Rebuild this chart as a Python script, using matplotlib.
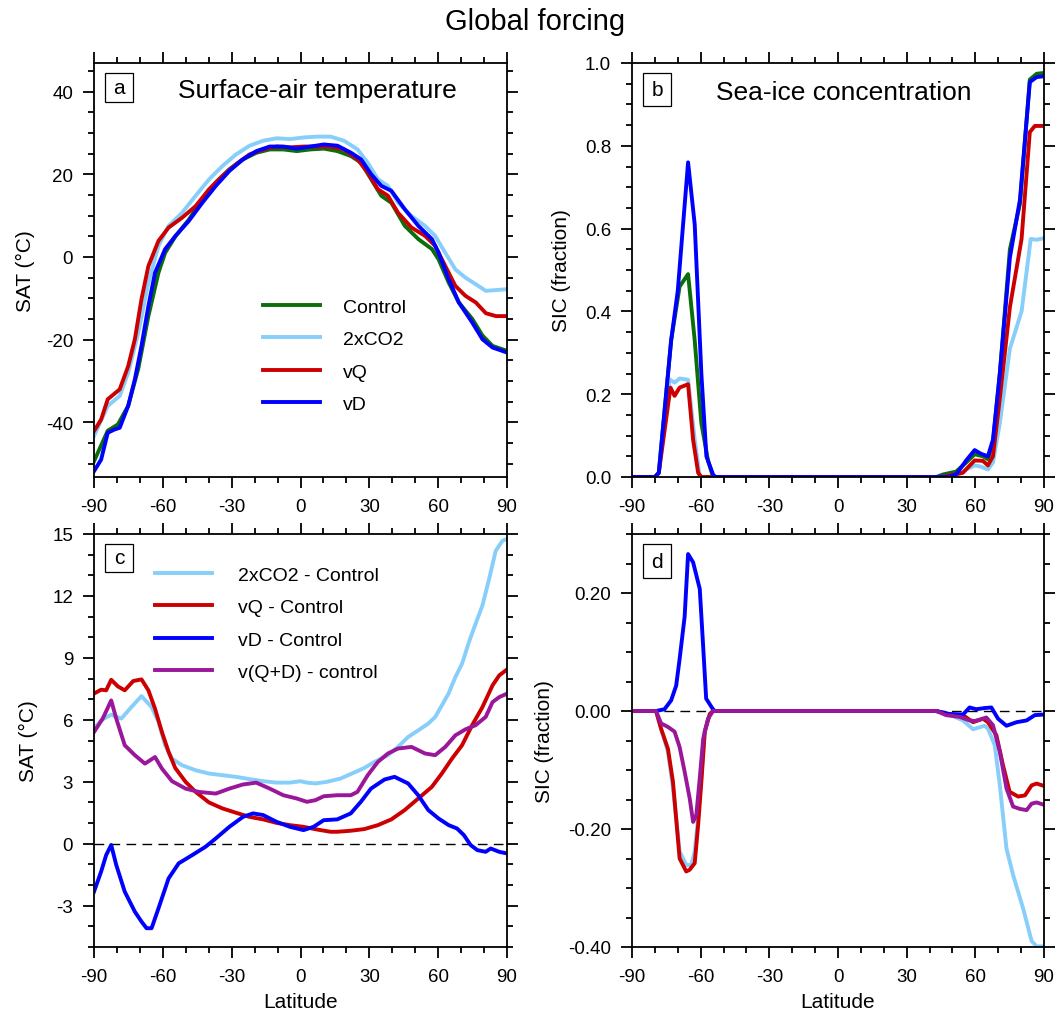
"""
Global forcing: zonal-mean surface-air temperature and sea-ice concentration
for the control / 2xCO2 / vQ / vD experiments, plus their differences.
"""

import matplotlib
matplotlib.use("Agg")
import matplotlib.pyplot as plt
from matplotlib.patches import Rectangle
from matplotlib.ticker import MultipleLocator, FormatStrFormatter

plt.rcParams["font.family"] = ["Liberation Sans", "DejaVu Sans"]
plt.rcParams["axes.unicode_minus"] = False

C_CTRL = "#0a6e0a"
C_CO2 = "#87cefa"
C_VQ = "#cc0000"
C_VD = "#0000ff"
C_VQD = "#9a179a"

# ---- panel a: SAT (degC) ----
sat_ctrl_lat = [-90, -84, -79.6, -75.1, -70.7, -66.3, -61.9, -59, -54.5, -48.7, -42.8, -36.9, -31, -25.1,
                -19.2, -13.4, -7.5, -1.6, 4.3, 10.2, 16.1, 22, 26.4, 30.8, 35.2, 39.6, 45.5, 51.4, 57.3,
                60.2, 64.6, 69, 74.9, 79.3, 83.7, 90]
sat_ctrl = [-49.4, -42, -40.5, -36, -27, -14.3, -3.8, 1, 5, 9, 14, 18, 21.2, 23.6,
            25.2, 26, 26, 25.6, 26, 26.2, 25.6, 24.4, 22.8, 18.8, 14.8, 13.1, 7.5, 4.3, 1.9,
            -0.6, -6.2, -11, -15, -19, -21.5, -22.7]

sat_co2_lat = [-90, -84, -78.8, -75.1, -70.7, -66.3, -61.9, -57.5, -51.6, -45.7, -39.8, -34, -28.1, -22.2,
               -16.3, -10.4, -4.5, 1.4, 7.2, 13.1, 19, 24.9, 29.3, 33.7, 38.1, 42.5, 48.4, 54.3, 58.7,
               63.1, 67.5, 71.9, 76.4, 80.8, 85.2, 90]
sat_co2 = [-43.3, -36, -33.6, -28, -18.3, -6.2, 2.7, 7.5, 10.7, 14.8, 18.8, 22, 24.8, 26.9,
           28.1, 28.7, 28.5, 28.9, 29.1, 29.1, 28.1, 26, 22.8, 18.8, 17.2, 13.1, 9.9, 7.5, 5.1,
           1, -3, -5, -6.6, -8.2, -8, -7.8]

sat_vq_lat = [-90, -86.9, -84, -78.8, -75.1, -72.2, -69.3, -66.3, -61.9, -57.5, -51.6, -45.7, -39.8, -34,
              -28.1, -22.2, -16.3, -10.4, -4.5, 1.4, 7.2, 13.1, 19, 24.9, 29.3, 33.7, 38.1, 42.5, 48.4,
              54.3, 58.7, 63.1, 67.5, 71.9, 76.4, 80.8, 85.2, 90]
sat_vq = [-42.1, -39.3, -34.4, -32, -26.4, -19.9, -10.2, -2.2, 3.9, 7.1, 9.5, 12.3, 16.4, 19.6,
          22.4, 24.8, 26, 26.7, 26.5, 26.7, 26.7, 26.7, 26, 23.6, 20.4, 16.4, 14.8, 10.7, 7.1,
          5.1, 2.7, -2.2, -7, -9.4, -11, -13.6, -14.3, -14.3]

sat_vd_lat = [-90, -86.9, -84, -81, -78.8, -75.1, -72.2, -69.3, -66.3, -63.4, -59, -54.5, -48.7, -42.8,
              -36.9, -31, -25.1, -19.2, -13.4, -7.5, -1.6, 4.3, 10.2, 16.1, 22, 26.4, 30.8, 35.2, 39.6,
              45.5, 51.4, 57.3, 60.2, 64.6, 69, 74.9, 79.3, 83.7, 90]
sat_vd = [-51.8, -49, -42.5, -41.7, -41.3, -36, -29.6, -21.5, -11.9, -3.8, 1.9, 5.1, 8.7, 13.1,
          17.2, 20.8, 23.6, 25.6, 26.7, 26.7, 26.2, 26.7, 27.2, 26.9, 25.2, 23.6, 20, 17.2, 16,
          11.5, 7.5, 4.3, 1, -5.4, -11, -15.9, -19.9, -21.9, -23.1]

# ---- panel b: SIC (fraction) ----
sic_ctrl_lat = [-90, -80, -78.3, -72.9, -69.2, -65.5, -62.6, -59.7, -56.8, -54.6, 43, 45.8, 51.6, 56,
                59.7, 63.3, 65.5, 67.7, 70.7, 75.1, 79.5, 83.8, 86.8, 90]
sic_ctrl = [0, 0, 0.01, 0.33, 0.46, 0.49, 0.33, 0.13, 0.04, 0, 0, 0.006, 0.013, 0.035,
            0.055, 0.05, 0.043, 0.083, 0.25, 0.55, 0.66, 0.96, 0.974, 0.976]

sic_co2_lat = [-90, -80, -78.3, -73.6, -71.4, -69.2, -65.5, -62.6, -60.4, 48, 51.6, 56, 59.7, 62.5,
               65.5, 67.7, 70.7, 75.1, 80.2, 84.2, 86.8, 90]
sic_co2 = [0, 0, 0.01, 0.236, 0.228, 0.238, 0.235, 0.09, 0, 0, 0.002, 0.018, 0.028, 0.025,
           0.018, 0.035, 0.13, 0.31, 0.4, 0.575, 0.573, 0.577]

sic_vq_lat = [-90, -80, -78.3, -73.2, -71.4, -69.2, -65.5, -63.3, -61.1, -59.7, 45, 48.7, 54.5, 59.7,
              63.3, 65.5, 67.7, 70.7, 75.1, 80.2, 83.8, 86, 90]
sic_vq = [0, 0, 0.01, 0.216, 0.196, 0.216, 0.224, 0.09, 0.01, 0, 0, 0.004, 0.01, 0.04,
          0.039, 0.028, 0.05, 0.19, 0.41, 0.575, 0.833, 0.848, 0.848]

sic_vd_lat = [-90, -80, -78.3, -72.9, -70, -65.5, -62.6, -59.7, -57.5, -54.6, -53.5, 48, 51.6, 56,
              59.7, 62.5, 65.5, 67.7, 70.7, 75.1, 79.5, 83.8, 86.8, 90]
sic_vd = [0, 0, 0.01, 0.33, 0.45, 0.76, 0.61, 0.25, 0.05, 0.006, 0, 0, 0.006, 0.04,
          0.065, 0.056, 0.05, 0.09, 0.25, 0.53, 0.67, 0.954, 0.966, 0.968]

# ---- panel c: SAT differences (degC) ----
dsat_co2_lat = [-90, -86.9, -82.5, -78.1, -73.7, -69.3, -64.9, -61.9, -59, -56, -51.6, -45.7, -39.9, -34,
                -28.1, -22.2, -16.3, -10.4, -4.6, -0.1, 2.8, 6.5, 11.6, 17.5, 23.4, 27.8, 32.2, 38.1,
                42.5, 46.9, 51.3, 55.7, 58.7, 61.6, 64.5, 67.5, 70.4, 73.4, 76.3, 79.3, 82.2, 85.1,
                88.1, 90]
dsat_co2 = [5.57, 5.98, 6.25, 6.06, 6.62, 7.15, 6.62, 5.9, 4.77, 4.12, 3.8, 3.56, 3.4, 3.32,
            3.24, 3.13, 3.03, 2.96, 2.96, 3.03, 2.96, 2.92, 3.0, 3.16, 3.45, 3.67, 3.96, 4.29,
            4.69, 5.17, 5.49, 5.82, 6.14, 6.7, 7.27, 8.07, 8.72, 9.76, 10.65, 11.54, 12.82, 14.19,
            14.68, 14.76]

dsat_vq_lat = [-90, -86.9, -84.7, -82.5, -79.6, -76.6, -72.9, -69.3, -66.3, -63.4, -60.4, -57.5, -54.6,
               -50.1, -45.7, -39.9, -34, -28.1, -22.2, -16.3, -10.4, -4.6, 1.3, 7.2, 13.1, 16, 21.9,
               27.8, 33.7, 39.6, 45.4, 51.3, 57.2, 61.6, 66, 70.4, 74.8, 79.3, 83.7, 86.6, 90]
dsat_vq = [7.27, 7.46, 7.43, 7.94, 7.62, 7.43, 7.88, 7.96, 7.43, 6.54, 5.41, 4.45, 3.67,
           3.0, 2.51, 2.0, 1.71, 1.5, 1.3, 1.18, 1.01, 0.9, 0.82, 0.69, 0.58, 0.58, 0.63,
           0.71, 0.9, 1.18, 1.63, 2.19, 2.75, 3.4, 4.12, 4.77, 5.74, 6.62, 7.67, 8.15, 8.44]

dsat_vd_lat = [-90, -86.9, -84.7, -82.5, -80.3, -76.6, -72.2, -69.3, -67.1, -64.9, -61.9, -57.5, -53.1,
               -47.2, -41.3, -36.9, -31, -25.1, -20.7, -16.3, -10.4, -4.6, 1.3, 5.7, 10.1, 16, 21.9,
               26.3, 30.7, 36.6, 41, 46.9, 51.3, 55.7, 60.2, 64.6, 68.2, 71.2, 74.1, 77.1, 80.7,
               82.9, 86.6, 90]
dsat_vd = [-2.32, -1.35, -0.55, -0.06, -1.03, -2.32, -3.29, -3.77, -4.09, -4.09, -3.13, -1.68, -0.95,
           -0.55, -0.14, 0.26, 0.82, 1.3, 1.47, 1.39, 1.06, 0.82, 0.66, 0.82, 1.14, 1.18, 1.47,
           2.03, 2.67, 3.11, 3.24, 2.92, 2.35, 1.63, 1.22, 0.9, 0.74, 0.42, -0.06, -0.31, -0.39,
           -0.23, -0.39, -0.47]

dsat_vqd_lat = [-90, -86.2, -82.5, -80.3, -76.6, -72.2, -67.8, -63.4, -60.4, -56, -50.1, -44.3, -36.9,
                -31, -25.1, -19.3, -13.4, -7.5, -1.6, 2.8, 6.5, 10.1, 16, 21.9, 24.8, 29.3, 33.7,
                38.1, 42.5, 48.4, 54.3, 58.7, 63.1, 67.5, 71.9, 76.3, 80.7, 83.7, 86.6, 90]
dsat_vqd = [5.41, 6.06, 6.94, 6.06, 4.77, 4.29, 3.88, 4.2, 3.64, 3.03, 2.67, 2.51, 2.43,
            2.67, 2.87, 2.96, 2.67, 2.35, 2.19, 2.03, 2.11, 2.3, 2.35, 2.35, 2.51, 3.32, 3.96,
            4.37, 4.61, 4.69, 4.37, 4.29, 4.69, 5.25, 5.54, 5.74, 6.14, 6.86, 7.1, 7.27]

# ---- panel d: SIC differences (fraction) ----
dsic_co2_lat = [-90, -79.5, -77.3, -74.3, -72.1, -69.9, -69.2, -66.3, -64.1, -62.6, -61.1, -59.7, -58.2,
                -56, -54.6, 43, 48.7, 54.6, 59, 64.1, 65.5, 68.5, 70.7, 73.6, 76.5, 80.9, 84.6, 86.8, 90]
dsic_co2 = [0, 0, -0.03, -0.069, -0.131, -0.21, -0.238, -0.261, -0.261, -0.238, -0.18, -0.11, -0.033,
            -0.005, 0, 0, -0.006, -0.016, -0.031, -0.025, -0.03, -0.058, -0.126, -0.233, -0.278,
            -0.335, -0.39, -0.399, -0.399]

dsic_vq_lat = [-90, -79.5, -77.3, -74.3, -72.1, -69.2, -66.3, -64.8, -62.6, -61.1, -59.7, -58.2, -56,
               -54.6, 43, 48.7, 54.6, 59, 63.3, 65.5, 69.2, 72.1, 75, 78.7, 81.7, 84.6, 86.8, 90]
dsic_vq = [0, 0, -0.03, -0.064, -0.12, -0.25, -0.272, -0.269, -0.258, -0.193, -0.12, -0.035, -0.005,
           0, 0, -0.006, -0.007, -0.019, -0.013, -0.019, -0.041, -0.092, -0.137, -0.145, -0.143,
           -0.126, -0.123, -0.127]

dsic_vd_lat = [-90, -79.5, -75.8, -72.9, -70.7, -69.2, -67, -65.5, -63.3, -60.4, -59.1, -57.6, -54.8,
               -53.8, 42.8, 48.7, 54.6, 57.5, 60.4, 64.1, 67, 69.9, 73.6, 78, 82.4, 86, 90]
dsic_vd = [0, 0, 0.003, 0.018, 0.043, 0.088, 0.16, 0.266, 0.252, 0.207, 0.122, 0.021, 0.004,
           0, 0, -0.005, -0.006, 0.006, 0.003, 0.005, 0.006, -0.013, -0.025, -0.019, -0.016,
           -0.007, -0.006]

dsic_vqd_lat = [-90, -79.5, -77.3, -74.3, -71.4, -69.2, -67, -64.8, -63.3, -61.9, -60.4, -58.9, -56.8,
                -54.6, 43, 47.2, 53.1, 57.5, 59.7, 62.6, 64.8, 67.7, 70.7, 73.6, 76.5, 79.5, 82.4,
                84.6, 86.8, 90]
dsic_vqd = [0, 0, -0.021, -0.027, -0.035, -0.061, -0.103, -0.148, -0.188, -0.176, -0.114, -0.047,
            -0.013, 0, 0, -0.007, -0.01, -0.016, -0.017, -0.014, -0.011, -0.024, -0.069, -0.131,
            -0.162, -0.166, -0.168, -0.157, -0.155, -0.159]

LW = 2.8
FIG_W, FIG_H = 1057, 1020


def style_axes(ax, ylim, ymaj, ymin, yfmt, xlabel=False):
    ax.set_xlim(-90, 90)
    ax.set_ylim(*ylim)
    ax.xaxis.set_major_locator(MultipleLocator(30))
    ax.xaxis.set_minor_locator(MultipleLocator(10))
    ax.yaxis.set_major_locator(MultipleLocator(ymaj))
    ax.yaxis.set_minor_locator(MultipleLocator(ymin))
    ax.yaxis.set_major_formatter(FormatStrFormatter(yfmt))
    ax.tick_params(which="both", direction="out", top=True, right=True, width=1.3)
    ax.tick_params(which="major", length=8, labelsize=13.5)
    ax.tick_params(which="minor", length=4)
    ax.tick_params(axis="x", which="major", pad=7)
    ax.tick_params(axis="y", which="major", pad=7)
    for sp in ax.spines.values():
        sp.set_linewidth(1.3)
    if xlabel:
        ax.set_xlabel("Latitude", fontsize=15, labelpad=5)


def panel_label(ax, letter, h_px):
    bb = ax.get_position()
    w_ax = bb.width * FIG_W
    h_ax = bb.height * FIG_H
    x0, y0 = 11 / w_ax, 1 - (10 + h_px) / h_ax
    ax.add_patch(Rectangle((x0, y0), 28 / w_ax, h_px / h_ax, transform=ax.transAxes,
                           fill=False, edgecolor="black", linewidth=0.9, clip_on=False, zorder=6))
    ax.text(x0 + 14 / w_ax, y0 + h_px / 2 / h_ax, letter, transform=ax.transAxes,
            ha="center", va="center", fontsize=15, zorder=6)


fig = plt.figure(figsize=(FIG_W / 100, FIG_H / 100), dpi=100)

ax_a = fig.add_axes([94 / FIG_W, 1 - 478 / FIG_H, 413 / FIG_W, 414 / FIG_H])
ax_b = fig.add_axes([632 / FIG_W, 1 - 478 / FIG_H, 412 / FIG_W, 414 / FIG_H])
ax_c = fig.add_axes([94 / FIG_W, 1 - 948 / FIG_H, 413 / FIG_W, 413 / FIG_H])
ax_d = fig.add_axes([632 / FIG_W, 1 - 948 / FIG_H, 412 / FIG_W, 413 / FIG_H])

# a
ax_a.plot(sat_ctrl_lat, sat_ctrl, color=C_CTRL, lw=LW, label="Control")
ax_a.plot(sat_co2_lat, sat_co2, color=C_CO2, lw=LW, label="2xCO2")
ax_a.plot(sat_vq_lat, sat_vq, color=C_VQ, lw=LW, label="vQ")
ax_a.plot(sat_vd_lat, sat_vd, color=C_VD, lw=LW, label="vD")
style_axes(ax_a, (-53.2, 46.9), 20, 5, "%d")
ax_a.set_ylabel("SAT (°C)", fontsize=15, labelpad=8)
ax_a.text(0.540, 0.9186, "Surface-air temperature", transform=ax_a.transAxes,
          ha="center", va="baseline", fontsize=19)
ax_a.legend(loc="upper left", bbox_to_anchor=(0.409, 0.432), frameon=False, fontsize=14,
            handlelength=2.93, handletextpad=1.2, labelspacing=0.76, borderpad=0, borderaxespad=0)
panel_label(ax_a, "a", 29)

# b
ax_b.plot(sic_ctrl_lat, sic_ctrl, color=C_CTRL, lw=LW)
ax_b.plot(sic_co2_lat, sic_co2, color=C_CO2, lw=LW)
ax_b.plot(sic_vq_lat, sic_vq, color=C_VQ, lw=LW)
ax_b.plot(sic_vd_lat, sic_vd, color=C_VD, lw=LW)
style_axes(ax_b, (0, 1), 0.2, 0.05, "%.1f")
ax_b.set_ylabel("SIC (fraction)", fontsize=15, labelpad=10)
ax_b.text(0.513, 0.913, "Sea-ice concentration", transform=ax_b.transAxes,
          ha="center", va="baseline", fontsize=19)
panel_label(ax_b, "b", 33)

# c
ax_c.axhline(0, color="black", lw=1, dashes=(7, 4.5), zorder=1)
ax_c.plot(dsat_co2_lat, dsat_co2, color=C_CO2, lw=LW, label="2xCO2 - Control")
ax_c.plot(dsat_vq_lat, dsat_vq, color=C_VQ, lw=LW, label="vQ - Control")
ax_c.plot(dsat_vd_lat, dsat_vd, color=C_VD, lw=LW, label="vD - Control")
ax_c.plot(dsat_vqd_lat, dsat_vqd, color=C_VQD, lw=LW, label="v(Q+D) - control")
style_axes(ax_c, (-5, 15), 3, 1, "%d", xlabel=True)
ax_c.set_ylabel("SAT (°C)", fontsize=15, labelpad=10)
ax_c.legend(loc="upper left", bbox_to_anchor=(0.148, 0.922), frameon=False, fontsize=14,
            handlelength=2.93, handletextpad=1.35, labelspacing=0.76, borderpad=0, borderaxespad=0)
panel_label(ax_c, "c", 28)

# d
ax_d.axhline(0, color="black", lw=1, dashes=(7, 4.5), zorder=1)
ax_d.plot(dsic_co2_lat, dsic_co2, color=C_CO2, lw=LW)
ax_d.plot(dsic_vq_lat, dsic_vq, color=C_VQ, lw=LW)
ax_d.plot(dsic_vd_lat, dsic_vd, color=C_VD, lw=LW)
ax_d.plot(dsic_vqd_lat, dsic_vqd, color=C_VQD, lw=LW)
style_axes(ax_d, (-0.4, 0.3), 0.2, 0.05, "%.2f", xlabel=True)
ax_d.set_ylabel("SIC (fraction)", fontsize=15, labelpad=10)
panel_label(ax_d, "d", 34)

fig.text(535 / FIG_W, 1 - 30 / FIG_H, "Global forcing", ha="center", va="baseline", fontsize=21)

fig.savefig("out.png", dpi=100)
